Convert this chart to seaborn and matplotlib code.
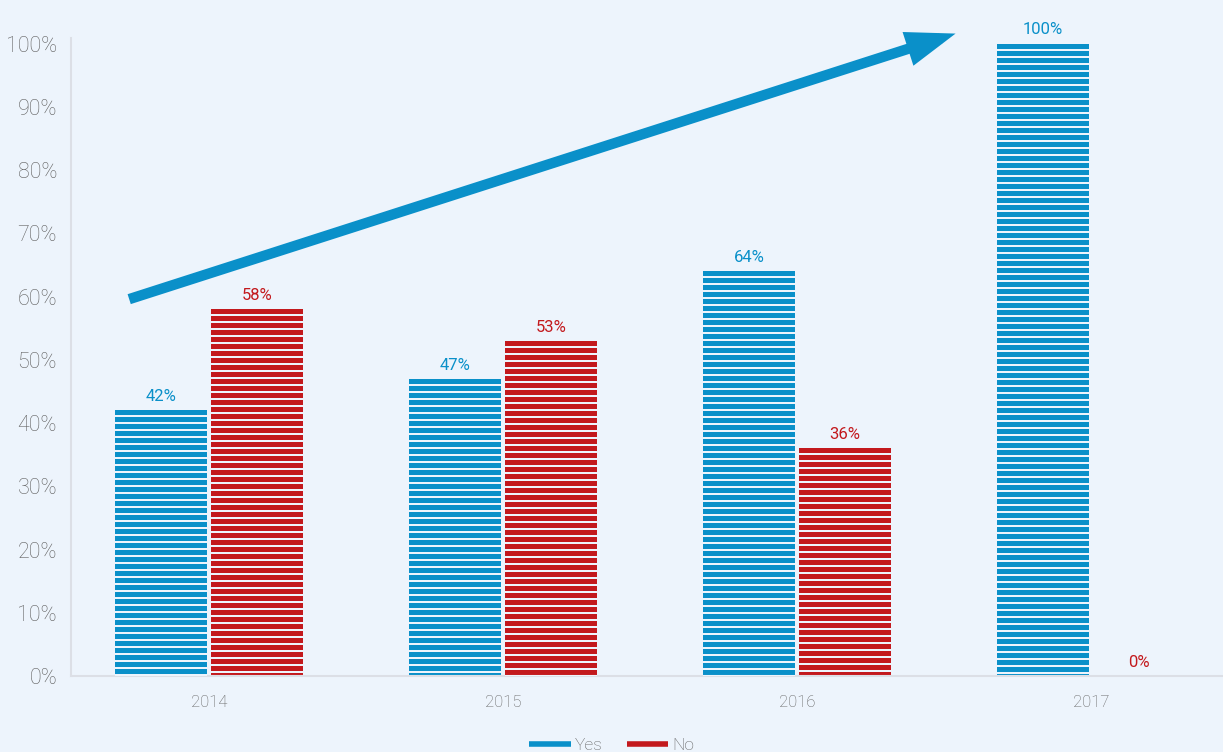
import matplotlib
matplotlib.use("Agg")
import matplotlib.pyplot as plt
from matplotlib.patches import Rectangle
from matplotlib.lines import Line2D
import seaborn as sns
import pandas as pd

# Survey answers per year (percent of respondents)
years = ["2014", "2015", "2016", "2017"]
yes_values = [42, 47, 64, 100]
no_values = [58, 53, 36, 0]
answers = ["Yes", "No"]
y_ticks = [0, 10, 20, 30, 40, 50, 60, 70, 80, 90, 100]
y_tick_labels = [f"{v}%" for v in y_ticks]

BLUE = "#0A90C9"
RED = "#C3191D"
BG = "#EDF4FC"
TEXT = "#606060"
SPINE = "#DCDFE6"

df = pd.DataFrame({
    "year": years * 2,
    "answer": [answers[0]] * len(years) + [answers[1]] * len(years),
    "value": yes_values + no_values,
})

sns.set_theme(style="white")
plt.rcParams["font.family"] = ["Roboto", "DejaVu Sans"]

W, H, DPI = 1223, 752, 100
fig = plt.figure(figsize=(W / DPI, H / DPI), dpi=DPI, facecolor=BG)
ax_left, ax_bottom, ax_top = 71 / W, 76 / H, 714 / H
ax = fig.add_axes([ax_left, ax_bottom, 1.0 - ax_left, ax_top - ax_bottom])
ax.set_facecolor(BG)

sns.barplot(data=df, x="year", y="value", hue="answer", order=years,
            hue_order=answers, palette=[BLUE, RED], width=0.653, gap=0.04,
            saturation=1, ax=ax, legend=False, linewidth=0)

ymax = 100.9
ax.set_xlim(-0.47, 3.45)
ax.set_ylim(0, ymax)

# Horizontal white stripes on each bar: 5 px of colour, 2 px of background
ax_h_px = (ax_top - ax_bottom) * H
px = ymax / ax_h_px
period, band = 7 * px, 5 * px
for bar in ax.patches:
    h = bar.get_height()
    if h <= 0:
        continue
    x0, w = bar.get_x(), bar.get_width()
    y = h - band
    while y > 0:
        g0 = max(y - (period - band), 0)
        ax.add_patch(Rectangle((x0, g0), w, y - g0, facecolor=BG,
                               edgecolor="none", zorder=3))
        y -= period
    bar.set_clip_on(False)

# Value labels above the bars
for bar, val in zip(ax.patches, yes_values + no_values):
    col = BLUE if bar.get_facecolor()[2] > 0.5 else RED
    ax.annotate(f"{val}%", (bar.get_x() + bar.get_width() / 2, val),
                xytext=(0, 4.5), textcoords="offset points", ha="center",
                va="bottom", fontsize=12, color=col, annotation_clip=False)

# Trend arrow
arrow_start = (-0.272, 59.6)
arrow_end = (2.54, 101.6)
ax.annotate("", xy=arrow_end, xytext=arrow_start, annotation_clip=False,
            arrowprops=dict(arrowstyle="-|>,head_length=1.75,head_width=0.62",
                            color=BLUE, lw=7.5, shrinkA=0, shrinkB=0,
                            capstyle="butt", joinstyle="miter"),
            zorder=5)

ax.set_yticks(y_ticks)
ax.set_yticklabels(y_tick_labels)
ax.tick_params(axis="y", length=0, pad=10, labelsize=15.5, labelcolor=TEXT)
ax.tick_params(axis="x", length=0, pad=14, labelsize=12, labelcolor=TEXT)
for lbl in ax.get_yticklabels() + ax.get_xticklabels():
    lbl.set_fontweight("light")
ax.set_xlabel("")
ax.set_ylabel("")
for side in ["top", "right"]:
    ax.spines[side].set_visible(False)
for side in ["left", "bottom"]:
    ax.spines[side].set_color(SPINE)
    ax.spines[side].set_linewidth(1.5)

handles = [Line2D([0], [0], color=BLUE, lw=4, solid_capstyle="butt"),
           Line2D([0], [0], color=RED, lw=4, solid_capstyle="butt")]
leg = fig.legend(handles, answers, loc="lower center", bbox_to_anchor=(0.5, -0.022),
                 ncol=2, frameon=False, handlelength=2.4, handletextpad=0.2,
                 columnspacing=1.4, fontsize=12.5)
for t in leg.get_texts():
    t.set_color(TEXT)
    t.set_fontweight("light")

fig.savefig("out.png", dpi=DPI, facecolor=BG)
